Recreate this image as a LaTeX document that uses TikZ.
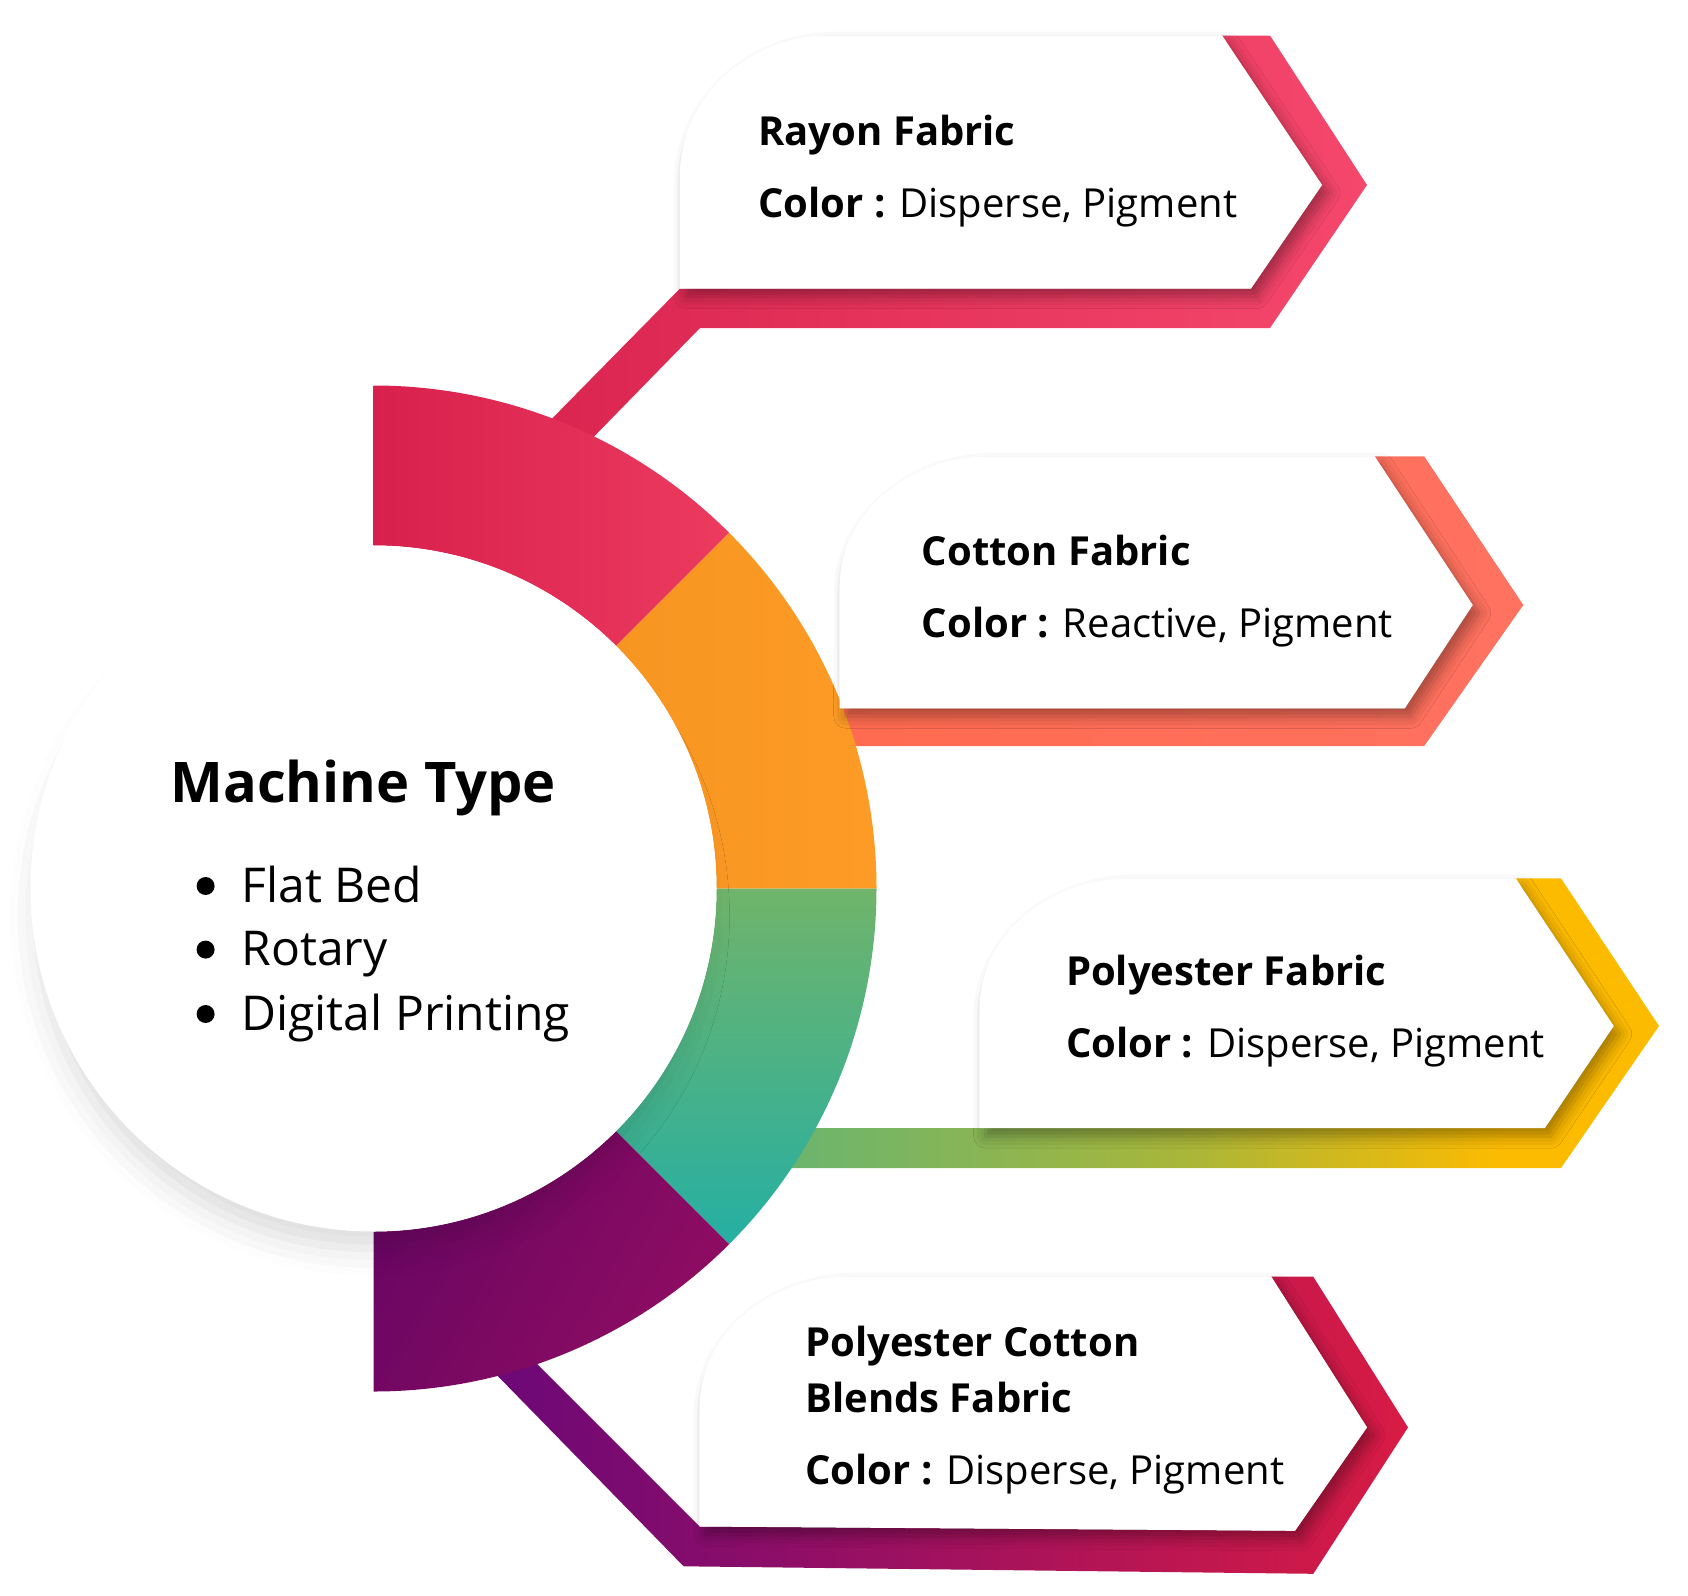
\documentclass[tikz,border=0pt]{standalone}
\usepackage{fontspec}
\setmainfont{Open Sans}
\usepackage{tikz}
\usetikzlibrary{
    calc,
    positioning,
    shadows.blur
}
\definecolor{rayon dark}{HTML}{D8234F}
\definecolor{rayon light}{HTML}{F5476B}
\definecolor{cotton dark}{HTML}{FF6A4E}
\definecolor{cotton light}{HTML}{FF7260}
\definecolor{poly green}{HTML}{5DB47A}
\definecolor{poly olive}{HTML}{A8B63A}
\definecolor{poly yellow}{HTML}{FDBB00}
\definecolor{blend purple}{HTML}{66077A}
\definecolor{blend red}{HTML}{D81B44}
\definecolor{ring red}{HTML}{D8204D}
\definecolor{ring pink}{HTML}{EC3B5F}
\definecolor{ring orange}{HTML}{FD9B26}
\definecolor{ring amber}{HTML}{F2901E}
\definecolor{ring green}{HTML}{70B46A}
\definecolor{ring teal}{HTML}{25AFA3}
\definecolor{ring plum}{HTML}{5E0463}
\definecolor{ring magenta}{HTML}{8E0C62}
\pgfdeclarehorizontalshading{poly band}{100bp}{color(0bp)=(poly green); color(25bp)=(poly green);
    color(50bp)=(poly olive); color(67bp)=(poly yellow); color(100bp)=(poly yellow)}
\tikzset{
    % White card over a coloured band:
    card/.style = {
        fill = white,
        blur shadow = {shadow xshift=3pt,shadow yshift=-4pt,shadow blur radius=6pt,shadow opacity=35}
    },
    % Centre disc:
    hub/.style = {
        fill = white,
        blur shadow = {shadow xshift=-2pt,shadow yshift=-14pt,shadow scale=0.97,shadow blur radius=14pt,shadow opacity=14}
    },
    % Card texts:
    card title/.style = {
        anchor = base west,
        inner sep = 0pt,
        font = \bfseries\fontsize{20}{24}\selectfont
    },
    card text/.style = {
        card title,
        font = \fontsize{20}{24}\selectfont
    },
    list item/.style = {
        anchor = base west,
        inner sep = 0pt,
        font = \fontsize{24}{29}\selectfont
    },
    bullet dot/.style = {
        circle,
        fill = black,
        inner sep = 0pt,
        minimum size = 9pt
    }
}
\newcommand{\ringsegment}[3]{%
    \shade [#3] (centre) ++(#1:503) arc [start angle=#1, end angle=#2, radius=503]
        -- ($(centre) + (#2:343)$) arc [start angle=#2, end angle=#1, radius=343] -- cycle;
}

\begin{document}
\begin{tikzpicture}[x=0.5pt, y=-0.5pt]
    \useasboundingbox (0,0) rectangle (1688,1596);
    \coordinate (centre) at (373.5,888.5);

    % bands
    \shade [left color=rayon dark, right color=rayon light]
        (494,477.6) -- (680,288.5) -- (1251,288.5) -- (1322,185) -- (1222,35.5)
        -- (1270,35.5) -- (1367,185) -- (1270,328) -- (700,328) -- (535,497) -- cycle;
    \shade [left color=cotton dark, right color=cotton light]
        (760,708.3) -- (1404.8,708.3) -- (1472.7,605) -- (1374.7,456.4)
        -- (1424.2,456.4) -- (1523.3,605) -- (1424.2,746) -- (760,746) -- cycle;
    \shade [shading=poly band]
        (700,1128.2) -- (1544.8,1128.2) -- (1613.7,1026) -- (1515.7,878.4)
        -- (1561,878.4) -- (1659,1026) -- (1561,1168) -- (700,1168) -- cycle;
    \shade [left color=blend purple, right color=blend red]
        (488,1315) -- (699.7,1526.5) -- (1295,1530.8) -- (1367,1427.4) -- (1271.3,1276.7)
        -- (1313.3,1276.7) -- (1408,1427.4) -- (1313.3,1573.8) -- (683.6,1566.3) -- (445,1322) -- cycle;

    % ring (y points down, so angles run clockwise)
    \ringsegment{-90}{-45}{left color=ring red, right color=ring pink}
    \ringsegment{-45}{0}{left color=ring amber, right color=ring orange}
    \ringsegment{0}{45}{top color=ring green, bottom color=ring teal}
    \ringsegment{45}{90}{left color=ring plum, right color=ring magenta, shading angle=60}

    \path [hub] (centre) circle [radius=343];

    % cards
    \path [card] (680,288.5) -- (680,175.5)
        arc [start angle=180, end angle=270, x radius=150, y radius=140]
        -- (1222,35.5) -- (1322,185) -- (1251,288.5) -- cycle;
    \path [card] (839.7,708.3) -- (839.7,586.4)
        arc [start angle=180, end angle=270, x radius=150, y radius=130]
        -- (1374.7,456.4) -- (1472.7,605) -- (1404.8,708.3) -- cycle;
    \path [card] (979.6,1128.2) -- (979.6,1008.4)
        arc [start angle=180, end angle=270, x radius=150, y radius=130]
        -- (1515.7,878.4) -- (1613.7,1026) -- (1544.8,1128.2) -- cycle;
    \path [card] (699.7,1526.5) -- (699.7,1406.7)
        arc [start angle=180, end angle=270, x radius=150, y radius=130]
        -- (1271.3,1276.7) -- (1367,1427.4) -- (1295,1530.8) -- cycle;

    \node (rayon title) [card title] at (758,145) {Rayon Fabric};
    \node (rayon colour) [card text] at (758,217.5) {\textbf{Color :} Disperse, Pigment};
    \node (cotton title) [card title] at (921.5,565) {Cotton Fabric};
    \node (cotton colour) [card text] at (921.5,637) {\textbf{Color :} Reactive, Pigment};
    \node (poly title) [card title] at (1065.7,985) {Polyester Fabric};
    \node (poly colour) [card text] at (1065.7,1057) {\textbf{Color :} Disperse, Pigment};
    \node (blend title) [card title] at (805,1356.4) {Polyester Cotton};
    \node (blend title2) [card title] at (805,1412.4) {Blends Fabric};
    \node (blend colour) [card text] at (805,1484.5) {\textbf{Color :} Disperse, Pigment};

    \node (machine type) [anchor=base west, inner sep=0pt, font=\bfseries\fontsize{28}{34}\selectfont]
        at (170,802) {Machine Type};
    \foreach \y/\entry [count=\i] in {902/Flat Bed, 965.6/Rotary, 1030/Digital Printing} {
        \node (dot\i) [bullet dot] at (205.6,\y-16) {};
        \node (entry\i) [list item] at (241,\y) {\entry};
    }
\end{tikzpicture}
\end{document}
